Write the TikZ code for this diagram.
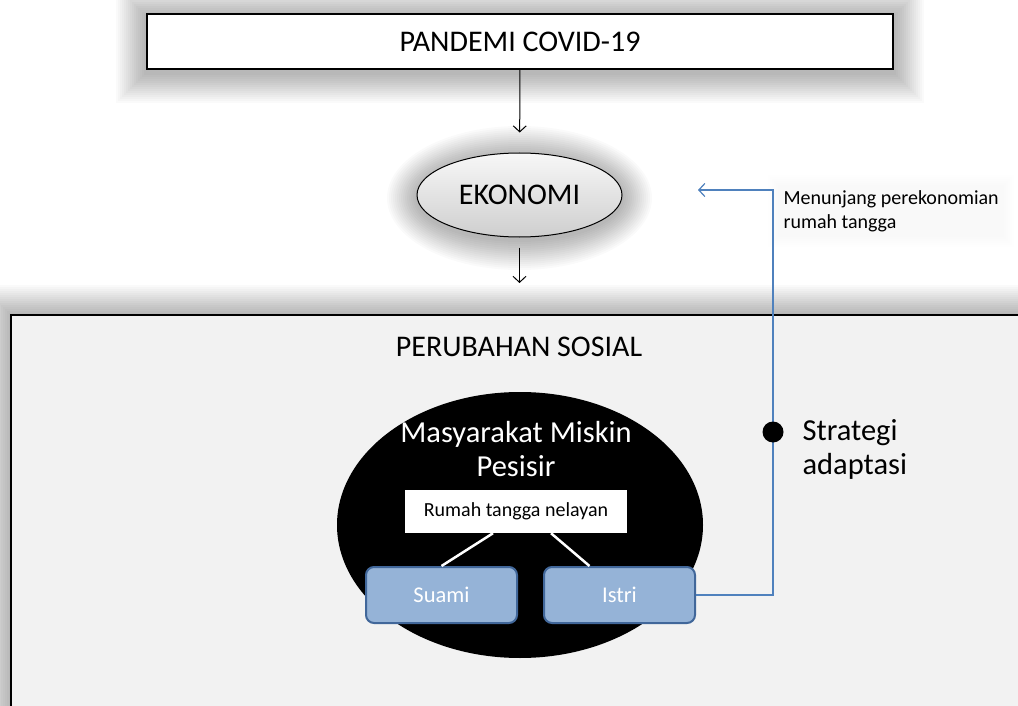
\documentclass[tikz,border=0pt]{standalone}
\usepackage{fontspec}
\setmainfont{Carlito}
\usetikzlibrary{positioning,shapes.geometric,backgrounds,arrows.meta}

\definecolor{boxblue}{HTML}{95B3D7}
\definecolor{boxline}{HTML}{41679A}
\definecolor{linkblue}{HTML}{4F81BD}
\definecolor{panel}{HTML}{F2F2F2}

\tikzset{
  haze/.style={black,opacity=0.018},
  titlebox/.style={draw,line width=2.5pt,fill=white,minimum width=746pt,minimum height=55pt,font=\fontsize{30}{34}\selectfont},
  oval/.style={ellipse,draw,line width=1pt,top color=gray!6,bottom color=gray!38,minimum width=205pt,minimum height=84pt,font=\fontsize{30}{34}\selectfont},
  member/.style={draw=boxline,line width=2pt,fill=boxblue,rounded corners=8pt,minimum width=151pt,minimum height=56pt,text=white,font=\fontsize{22.5}{26}\selectfont},
  bigtext/.style={font=\fontsize{30.5}{34}\selectfont,align=left},
}

\begin{document}
\begin{tikzpicture}[x=1pt,y=1pt,>={Straight Barb[length=6pt,width=13pt]}]
   \useasboundingbox (0,0) rectangle (1018,-706);

   \node[titlebox] (pandemi) at (520,-41.5) {PANDEMI COVID-19};
   \node[oval] (ekonomi) at (519.5,-195) {EKONOMI};

   \path[draw,line width=2.5pt,fill=panel] (11,-315) rectangle (1060,-760);
   \coordinate (panetop) at (519.5,-315);
   \node[font=\fontsize{30}{34}\selectfont] (sosial) at (519,-347) {PERUBAHAN SOSIAL};

   \node[ellipse,fill=black,minimum width=366pt,minimum height=266pt] (miskin) at (520,-525) {};
   \node[bigtext,align=center,text=white] (pesisir) at (516,-449) {Masyarakat Miskin\\Pesisir};
   \node[fill=white,minimum width=222pt,minimum height=43pt,font=\fontsize{20}{24}\selectfont] (rumah) at (516,-511.5) {Rumah tangga nelayan};
   \node[member] (suami) at (441.5,-595) {Suami};
   \node[member] (istri) [right=25pt of suami] {Istri};

   \draw[white,line width=2.5pt] ([xshift=-23pt]rumah.south) -- (suami.north);
   \draw[white,line width=2.5pt] ([xshift=35pt]rumah.south) -- ([xshift=-30pt]istri.north);

   \coordinate (turn) at (773,-190);
   \coordinate (tip) at (698,-190);
   \draw[->,linkblue,line width=1.2pt] (istri.east) -| (turn) -- (tip);

   \node[circle,fill=black,minimum size=21pt,inner sep=0pt] (dot) at (773,-432) {};
   \node[bigtext,anchor=west] (strategi) at (799,-449) {Strategi\\adaptasi};
   \node[anchor=west,align=left,font=\fontsize{20}{24}\selectfont] (menunjang) at (780,-211) {Menunjang perekonomian\\rumah tangga};

   \path[->,line width=1pt]
    (pandemi) edge[shorten >=20pt] (ekonomi)
    (ekonomi) edge[shorten <=10pt,shorten >=32pt] (panetop);

   \begin{scope}[on background layer]
     \fill[white] (0,0) rectangle (1018,-706);
     \foreach \r in {2,4,...,30} {
       \fill[haze] ([shift={(-\r,-\r-3)}]pandemi.south west) rectangle ([shift={(\r,\r-3)}]pandemi.north east);
       \fill[haze] ([yshift=-3]ekonomi.center) ellipse ({102.5+\r} and {42+\r});
       \fill[haze] (11-\r,-315+\r) rectangle (1060,-760);
     }
     \foreach \r in {2,4,...,12}
       \fill[black,opacity=0.005] ([shift={(-\r,-\r)}]menunjang.south west) rectangle ([shift={(\r,\r)}]menunjang.north east);
   \end{scope}
\end{tikzpicture}
\end{document}
